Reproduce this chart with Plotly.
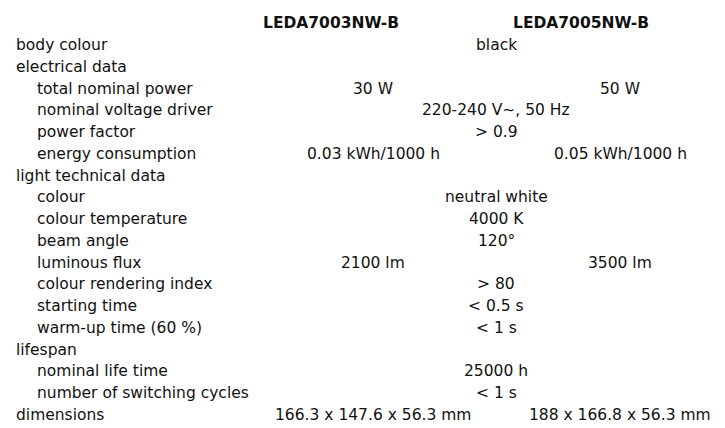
import plotly.graph_objects as go

headers = ["LEDA7003NW-B", "LEDA7005NW-B"]
labels = ["body colour", "electrical data", "total nominal power", "nominal voltage driver",
          "power factor", "energy consumption", "light technical data", "colour",
          "colour temperature", "beam angle", "luminous flux", "colour rendering index",
          "starting time", "warm-up time (60 %)", "lifespan", "nominal life time",
          "number of switching cycles", "dimensions"]
indent = [0, 0, 1, 1, 1, 1, 0, 1, 1, 1, 1, 1, 1, 1, 0, 1, 1, 0]
col1 = ["", "", "30 W", "", "", "0.03 kWh/1000 h", "", "", "", "", "2100 lm", "", "", "", "", "", "",
        "166.3 x 147.6 x 56.3 mm"]
col2 = ["", "", "50 W", "", "", "0.05 kWh/1000 h", "", "", "", "", "3500 lm", "", "", "", "", "", "",
        "188 x 166.8 x 56.3 mm"]
merged = ["black", "", "", "220-240 V~, 50 Hz", "> 0.9", "", "", "neutral white", "4000 K", "120°",
          "", "> 80", "< 0.5 s", "< 1 s", "", "25000 h", "< 1 s", ""]

font = dict(family="DejaVu Sans", size=15.5, color="#111")
DX, DY = -10, -7
fig = go.Figure()
ann = []
ann.append(dict(x=333, y=22, text="<b>" + headers[0] + "</b>", xanchor="center"))
ann.append(dict(x=583, y=22, text="<b>" + headers[1] + "</b>", xanchor="center"))
y0, dy = 44, 21.76
for i, lab in enumerate(labels):
    y = y0 + i * dy
    ann.append(dict(x=16 + 21 * indent[i], y=y, text=lab, xanchor="left"))
    if col1[i]:
        ann.append(dict(x=375, y=y, text=col1[i], xanchor="center"))
    if col2[i]:
        ann.append(dict(x=622, y=y, text=col2[i], xanchor="center"))
    if merged[i]:
        ann.append(dict(x=498, y=y, text=merged[i], xanchor="center"))
for a in ann:
    a.update(x=a["x"] + DX, y=a["y"] + DY, xref="x", yref="y", showarrow=False,
             yanchor="middle", font=font)

fig.update_layout(width=725, height=428, margin=dict(l=0, r=0, t=0, b=0),
                  paper_bgcolor="white", plot_bgcolor="white", annotations=ann,
                  xaxis=dict(range=[0, 725], visible=False, fixedrange=True),
                  yaxis=dict(range=[428, 0], visible=False, fixedrange=True),
                  showlegend=False)
fig.write_html("out.html")
